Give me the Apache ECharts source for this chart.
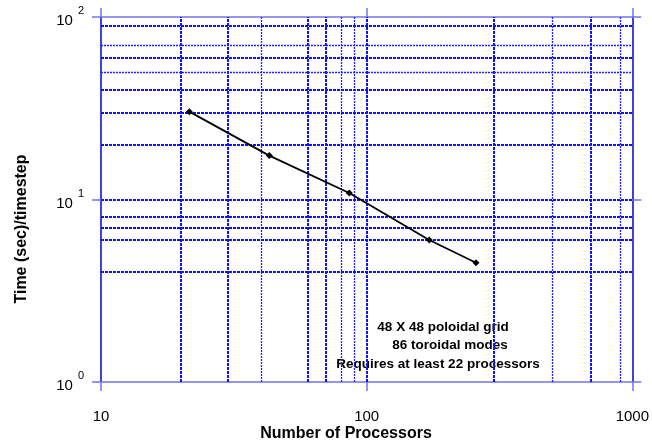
<!DOCTYPE html>
<html>
<head>
<meta charset="utf-8">
<script src="https://cdn.jsdelivr.net/npm/echarts@6/dist/echarts.min.js"></script>
<style>html,body{margin:0;padding:0;background:#fff}#c{width:652px;height:445px}</style>
</head>
<body>
<div id="c"></div>
<script>
// ---- data ----
const processors = [21.5, 43, 86, 172, 258];
const timePerStep = [30.3, 17.4, 10.85, 6.0, 4.5];
const xGridThick = [20, 30, 60, 70, 100, 300, 700];
const xGridThin = [40, 80, 90, 500, 900];
const yGridThick = [4, 6, 7, 8, 10, 20, 30, 40, 60, 90];
const yGridThin = [50, 70];
const xTitle = 'Number of Processors';
const yTitle = 'Time (sec)/timestep';
const noteLines = ['48 X 48 poloidal grid', '86 toroidal modes', 'Requires at least 22 processors'];

const FONT = '"Liberation Sans", Arial, sans-serif';
const darkBlue = '#0000d8';
const lightBlue = '#7474ea';
const gridBlue = '#1010ff';

const chart = echarts.init(document.getElementById('c'), null, {renderer: 'canvas'});

const thickStyle = {color: gridBlue, width: 2, type: [3, 1], opacity: 1};
const thinStyle = {color: '#2020ff', width: 1.3, type: [2, 1], opacity: 1};

const gridMarks = []
  .concat(xGridThick.map(v => ({xAxis: v, lineStyle: thickStyle})))
  .concat(xGridThin.map(v => ({xAxis: v, lineStyle: thinStyle})))
  .concat(yGridThick.map(v => ({yAxis: v, lineStyle: thickStyle})))
  .concat(yGridThin.map(v => ({yAxis: v, lineStyle: thinStyle})));

function baseAxis(pos, color, showLabel) {
  return {
    type: 'log', logBase: 10, position: pos,
    axisLine: {show: true, onZero: false, lineStyle: {color: color, width: 1.5}},
    axisTick: {show: true, inside: false, length: 9, lineStyle: {color: lightBlue, width: 1.5}},
    splitLine: {show: false},
    minorTick: {show: false},
    axisLabel: {show: showLabel},
  };
}

const xBottom = Object.assign(baseAxis('bottom', lightBlue, true), {
  min: 10, max: 1000, gridIndex: 0,
  axisLabel: {show: true, margin: 27, fontFamily: FONT, fontSize: 15, color: '#000',
    showMinLabel: true, showMaxLabel: true,
    formatter: v => String(Math.round(v))}
});
const xTop = Object.assign(baseAxis('top', lightBlue, false), {min: 10, max: 1000, gridIndex: 0});
const yLeft = Object.assign(baseAxis('left', darkBlue, true), {
  min: 1, max: 100, gridIndex: 0,
  axisLabel: {show: true, margin: 17, color: '#000',
    showMinLabel: true, showMaxLabel: true,
    formatter: v => '{b|10}{s|' + Math.round(Math.log10(v)) + '}',
    rich: {
      b: {fontFamily: FONT, fontSize: 15, color: '#000', padding: [8, 0, 0, 0]},
      s: {fontFamily: FONT, fontSize: 11, color: '#000', padding: [0, 0, 4, 5], verticalAlign: 'top'}
    }}
});
const yRight = Object.assign(baseAxis('right', darkBlue, false), {min: 1, max: 100, gridIndex: 0});

chart.setOption({
  animation: false,
  backgroundColor: '#fff',
  grid: {left: 101, top: 17, width: 535, height: 365, containLabel: false},
  xAxis: [xBottom, xTop],
  yAxis: [yLeft, yRight],
  series: [
    {
      type: 'line', xAxisIndex: 0, yAxisIndex: 0, data: [], z: 1, silent: true,
      markLine: {silent: true, symbol: ['none', 'none'], label: {show: false}, animation: false, data: gridMarks}
    },
    {
      type: 'line', xAxisIndex: 0, yAxisIndex: 0, z: 5,
      data: processors.map((x, i) => [x, timePerStep[i]]),
      symbol: 'diamond', symbolSize: 7, showSymbol: true,
      itemStyle: {color: '#000'},
      lineStyle: {color: '#000', width: 1.8}
    }
  ],
  graphic: [
    {type: 'text', x: 346, y: 434, style: {text: xTitle, font: 'bold 16px ' + FONT, fill: '#000', align: 'center', verticalAlign: 'middle'}},
    {type: 'text', x: 22, y: 229, rotation: Math.PI / 2, style: {text: yTitle, font: 'bold 16px ' + FONT, fill: '#000', align: 'center', verticalAlign: 'middle'}},
    {type: 'text', x: 443, y: 327, style: {text: noteLines[0], font: 'bold 13.5px ' + FONT, fill: '#000', align: 'center', verticalAlign: 'middle'}},
    {type: 'text', x: 450, y: 345, style: {text: noteLines[1], font: 'bold 13.5px ' + FONT, fill: '#000', align: 'center', verticalAlign: 'middle'}},
    {type: 'text', x: 438, y: 364, style: {text: noteLines[2], font: 'bold 13.5px ' + FONT, fill: '#000', align: 'center', verticalAlign: 'middle'}}
  ]
});
</script>
</body>
</html>
